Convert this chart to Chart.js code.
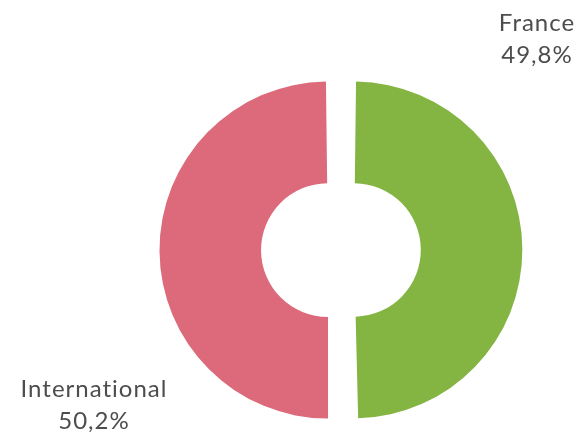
<!DOCTYPE html>
<html>
<head>
<meta charset="utf-8">
<script src="https://cdn.jsdelivr.net/npm/chart.js@4/dist/chart.umd.min.js"></script>
<style>
  html, body { margin: 0; padding: 0; background: #fff; }
  #wrap { width: 578px; height: 436px; }
</style>
</head>
<body>
<div id="wrap"><canvas id="donut"></canvas></div>
<script>
// values
const categories = ['France', 'International'];
const shares = [49.8, 50.2];
const colours = ['#84b441', '#dc6a7a'];

// labels sit outside the ring, placed relative to its centre
const labelPlacement = [
	{ dx: 196, dy: -219 },  // France, upper right
	{ dx: -247, dy: 147 }   // International, lower left
];

const outsideLabels = {
	id: 'outsideLabels',
	afterDraw(chart) {
		const ctx = chart.ctx;
		const arcs = chart.getDatasetMeta(0).data;
		ctx.save();
		ctx.font = '24px Lato';
		ctx.letterSpacing = '1px';
		ctx.fillStyle = '#4d4d4d';
		ctx.textAlign = 'center';
		ctx.textBaseline = 'alphabetic';
		arcs.forEach((arc, i) => {
			const x = arc.x + labelPlacement[i].dx;
			const y = arc.y + labelPlacement[i].dy;
			const pct = shares[i].toFixed(1).replace('.', ',') + '%';
			ctx.fillText(categories[i], x, y);
			ctx.fillText(pct, x, y + 32);
		});
		ctx.restore();
	}
};

new Chart(document.getElementById('donut'), {
	type: 'doughnut',
	data: {
		labels: categories,
		datasets: [{
			data: shares,
			backgroundColor: colours,
			borderWidth: 0,
			offset: 52,
			hoverOffset: 52
		}]
	},
	options: {
		responsive: true,
		maintainAspectRatio: false,
		animation: false,
		radius: 155.5,
		cutout: '34.7%',
		layout: { padding: { left: 104, top: 64, right: 0, bottom: 0 } },
		plugins: {
			legend: { display: false },
			tooltip: { enabled: false }
		},
		events: []
	},
	plugins: [outsideLabels]
});
</script>
</body>
</html>
